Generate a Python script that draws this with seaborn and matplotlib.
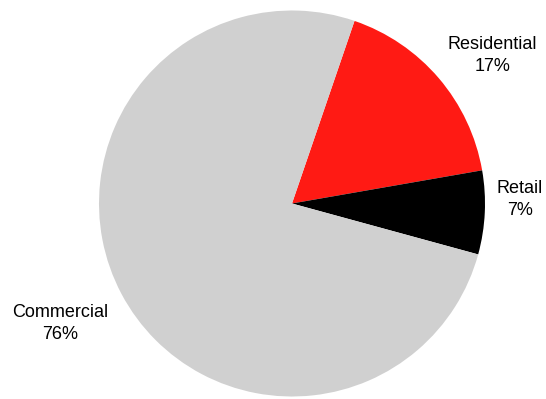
import numpy as np
import matplotlib
matplotlib.use("Agg")
import matplotlib.pyplot as plt
import seaborn as sns

# data
sectors = ["Residential", "Retail", "Commercial"]
shares = [17, 7, 76]
colors = ["#ff1a14", "#000000", "#d0d0d0"]

sns.set_style("white")
plt.rcParams['font.family'] = ['Liberation Sans', 'DejaVu Sans']

fig = plt.figure(figsize=(5.46, 3.99), dpi=100)
# pie box: centre ~ (292, 203.5) px, radius ~193 px
ax = fig.add_axes([(292 - 193) / 546, (399 - 203.5 - 193) / 399, 386 / 546, 386 / 399])

labels = [f"{s}\n{v}%" for s, v in zip(sectors, shares)]
wedges, texts = ax.pie(shares, labels=labels, colors=colors, startangle=71.1,
                       counterclock=False, wedgeprops=dict(linewidth=0),
                       textprops=dict(fontsize=13, color="black"))

# label placement (data units, radius = 1)
label_xy = [(1.04, 0.765), (1.18, 0.02), (-1.20, -0.62)]
for t, xy in zip(texts, label_xy):
    t.set_position(xy)
    t.set_ha("center")
    t.set_va("center")
    t.set_multialignment("center")
    t.set_linespacing(1.4)

ax.set_xlim(-1, 1)
ax.set_ylim(-1, 1)
ax.set_aspect("equal")
ax.axis("off")

fig.savefig("out.png", dpi=100)
